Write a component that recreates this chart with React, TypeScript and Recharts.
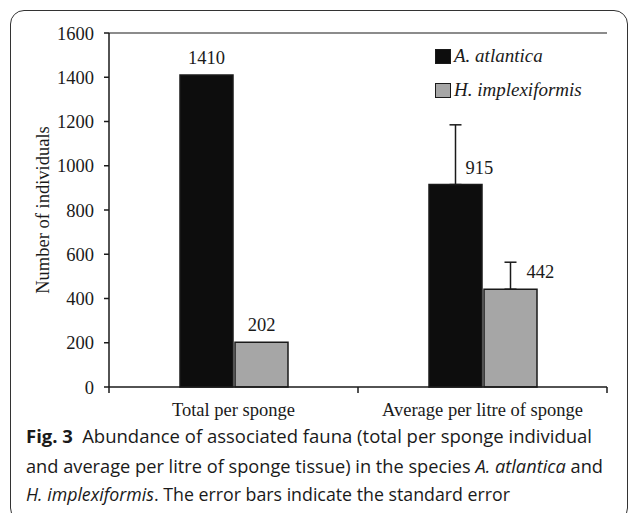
import React from 'react'
import { BarChart, Bar, XAxis, YAxis, ErrorBar, Legend, ReferenceLine } from 'recharts'

const categories = ['Total per sponge', 'Average per litre of sponge']
const atlantica = [1410, 915]
const implexiformis = [202, 442]
// standard error, plus direction only (none for the totals)
const atlanticaErr: (number | null)[] = [null, 270]
const implexiformisErr: (number | null)[] = [null, 122]
const yTicks = [0, 200, 400, 600, 800, 1000, 1200, 1400, 1600]
const seriesNames = ['A. atlantica', 'H. implexiformis']

const data = categories.map((name, i) => ({
  name,
  a: atlantica[i],
  h: implexiformis[i],
  aErr: atlanticaErr[i] == null ? null : [0, atlanticaErr[i]],
  hErr: implexiformisErr[i] == null ? null : [0, implexiformisErr[i]],
}))

const serif = '"Liberation Serif", "Times New Roman", serif'
const ink = '#1a1a1a'
const colors = ['#0d0d0d', '#a6a6a6']
const fs = 18.5

const W = 630
const H = 425
const margin = { top: 33, right: 23, bottom: 8, left: 29 }
const yAxisW = 80
const halfBand = (W - margin.left - margin.right - yAxisW) / categories.length / 2

function makeLabel(errs: (number | null)[], shift: number) {
  return (props: any) => {
    const { x, y, width, value, index } = props
    const hasErr = errs[index] != null
    const cx = x + width / 2
    return (
      <text
        x={hasErr ? cx + shift : cx}
        y={y - 11}
        textAnchor={hasErr ? 'start' : 'middle'}
        fontFamily={serif}
        fontSize={fs}
        fill={ink}
      >
        {value}
      </text>
    )
  }
}

// category label plus Excel-style tick marks on the category boundaries
function CategoryTick(props: any) {
  const { x, y, payload, index } = props
  const last = index === categories.length - 1
  return (
    <g>
      <line x1={x - halfBand} x2={x - halfBand} y1={y} y2={y + 6} stroke={ink} strokeWidth={1.5} />
      {last && <line x1={x + halfBand} x2={x + halfBand} y1={y} y2={y + 6} stroke={ink} strokeWidth={1.5} />}
      <text x={x} y={y + 16} dy="0.71em" textAnchor="middle" fontFamily={serif} fontSize={fs} fill={ink}>
        {payload.value}
      </text>
    </g>
  )
}

function SpeciesLegend() {
  return (
    <div style={{ fontFamily: serif, fontSize: 19, fontStyle: 'italic', color: ink }}>
      {seriesNames.map((n, i) => (
        <div key={n} style={{ display: 'flex', alignItems: 'center', height: 34 }}>
          <span
            style={{
              width: 14,
              height: 13,
              background: colors[i],
              border: `1px solid ${ink}`,
              marginRight: 3,
            }}
          />
          <span>{n}</span>
        </div>
      ))}
    </div>
  )
}

export default function App() {
  return (
    <div style={{ position: 'absolute', left: 0, top: 0, width: 630, height: 513, background: '#fff', overflow: 'hidden' }}>
      <div
        style={{
          position: 'absolute',
          left: 10,
          top: 10,
          width: 616,
          height: 510,
          border: '1.5px solid #333',
          borderRadius: 14,
        }}
      />
      <div style={{ position: 'absolute', left: 0, top: 0 }}>
        <BarChart width={W} height={H} data={data} margin={margin} barSize={53} barGap={2}>
          <XAxis
            xAxisId="cat"
            dataKey="name"
            height={30}
            tickSize={0}
            tickMargin={0}
            tickLine={false}
            axisLine={{ stroke: ink, strokeWidth: 1.5 }}
            tick={<CategoryTick />}
          />
          <YAxis
            domain={[0, 1600]}
            ticks={yTicks}
            width={yAxisW}
            tickSize={5}
            tickMargin={10}
            tickLine={{ stroke: ink, strokeWidth: 1.5 }}
            axisLine={{ stroke: ink, strokeWidth: 1.5 }}
            tick={{ fontFamily: serif, fontSize: fs, fill: ink }}
            label={{
              value: 'Number of individuals',
              angle: -90,
              position: 'insideLeft',
              offset: 13,
              style: { textAnchor: 'middle', fontFamily: serif, fontSize: fs, fill: ink },
            }}
          />
          <YAxis
            yAxisId="right"
            orientation="right"
            domain={[0, 1600]}
            width={0}
            tick={false}
            tickLine={false}
            axisLine={{ stroke: ink, strokeWidth: 1.2 }}
          />
          <ReferenceLine xAxisId="cat" y={1600} stroke={ink} strokeWidth={1.2} />
          <Legend
            layout="vertical"
            align="center"
            verticalAlign="middle"
            content={<SpeciesLegend />}
            wrapperStyle={{ left: 435, top: 39, width: 190 }}
          />
          <Bar
            xAxisId="cat"
            dataKey="a"
            name={seriesNames[0]}
            fill={colors[0]}
            stroke={ink}
            strokeWidth={1.5}
            isAnimationActive={false}
            label={makeLabel(atlanticaErr, 10)}
          >
            <ErrorBar dataKey="aErr" width={6} stroke={ink} strokeWidth={1.5} direction="y" />
          </Bar>
          <Bar
            xAxisId="cat"
            dataKey="h"
            name={seriesNames[1]}
            fill={colors[1]}
            stroke={ink}
            strokeWidth={1.5}
            isAnimationActive={false}
            label={makeLabel(implexiformisErr, 16)}
          >
            <ErrorBar dataKey="hErr" width={6} stroke={ink} strokeWidth={1.5} direction="y" />
          </Bar>
        </BarChart>
      </div>
      <svg
        width={630}
        height={100}
        style={{ position: 'absolute', left: 0, top: 413 }}
        fontFamily='"Open Sans", "Noto Sans", sans-serif'
        fontSize={18}
        fill="#1a1a1a"
      >
        <text x={26} y={30} textLength={566} lengthAdjust="spacingAndGlyphs">
          <tspan fontWeight="bold">Fig. 3</tspan>
          <tspan dx={9}>Abundance of associated fauna (total per sponge individual</tspan>
        </text>
        <text x={26} y={60} textLength={577} lengthAdjust="spacingAndGlyphs">
          <tspan>and average per litre of sponge tissue) in the species </tspan>
          <tspan fontStyle="italic">A. atlantica</tspan>
          <tspan> and</tspan>
        </text>
        <text x={26} y={88} textLength={484} lengthAdjust="spacingAndGlyphs">
          <tspan fontStyle="italic">H. implexiformis</tspan>
          <tspan>. The error bars indicate the standard error</tspan>
        </text>
      </svg>
    </div>
  )
}
